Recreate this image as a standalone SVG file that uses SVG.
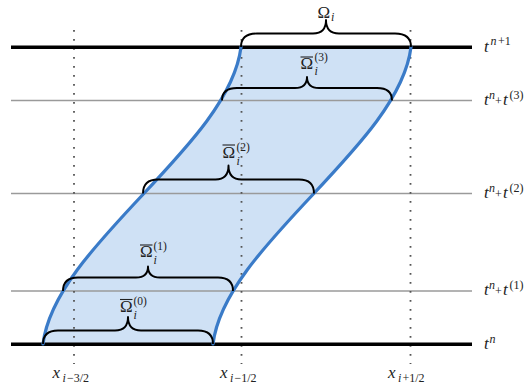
<svg xmlns="http://www.w3.org/2000/svg" width="528" height="390" viewBox="0 0 528 390">
<style>
.thick{stroke:#000;stroke-width:3.6;fill:none}
.thin{stroke:#9a9a9a;stroke-width:1.6;fill:none}
.dot{stroke:#555;stroke-width:1.8;stroke-dasharray:1.8 7.2;fill:none}
.edge{stroke:#3a7bc8;stroke-width:3.2;fill:none;stroke-linecap:round}
.cell{fill:#cfe1f5;stroke:none}
.brace{stroke:#000;stroke-width:1.9;fill:none;stroke-linejoin:round}
.bar{stroke:#222;stroke-width:1.1}
text{font-family:"Liberation Serif","Times New Roman",serif;fill:#222}
.m{font-size:17px;font-style:italic}
.g{font-size:17px;font-style:normal}
.s{font-size:12px;font-style:italic}
.sn{font-size:12px;font-style:normal}
.sp{font-size:11.5px;font-style:normal}
</style>
<g id="cell">
<path class="cell" d="M43,344 C55,245 229,146 241,47 L411,47 C399,146 225,245 213,344 Z"/>
</g>
<g id="time-levels">
<line class="thin" x1="11" y1="100.5" x2="472" y2="100.5"/>
<line class="thin" x1="11" y1="193.5" x2="472" y2="193.5"/>
<line class="thin" x1="11" y1="291" x2="472" y2="291"/>
</g>
<g id="interfaces">
<line class="dot" x1="74" y1="30" x2="74" y2="364"/>
<line class="dot" x1="241.5" y1="30" x2="241.5" y2="364"/>
<line class="dot" x1="410.5" y1="30" x2="410.5" y2="364"/>
</g>
<g id="bounds">
<line class="thick" x1="11" y1="47.3" x2="472" y2="47.3"/>
<line class="thick" x1="11" y1="344.3" x2="472" y2="344.3"/>
</g>
<g id="connectors">
<path class="edge" d="M43,344 C55,245 229,146 241,47"/>
<path class="edge" d="M213,344 C225,245 399,146 411,47"/>
</g>
<g id="braces">
<path class="brace" d="M241,47 Q241,33.5 257,33.5 L313,33.5 Q326,33.5 326,20 Q326,33.5 339,33.5 L395,33.5 Q411,33.5 411,47"/>
<path class="brace" d="M222,100.5 Q222,88 237,88 L295,88 Q307,88 307,77 Q307,88 319,88 L377,88 Q392,88 392,100.5"/>
<path class="brace" d="M143,193.5 Q143,179.5 158,179.5 L215.5,179.5 Q228.5,179.5 228.5,165.5 Q228.5,179.5 241.5,179.5 L299,179.5 Q314,179.5 314,193.5"/>
<path class="brace" d="M63,291 Q63,277.5 78,277.5 L136,277.5 Q148,277.5 148,266.5 Q148,277.5 160,277.5 L218,277.5 Q233,277.5 233,291"/>
<path class="brace" d="M43,344 Q43,330.5 58,330.5 L115,330.5 Q128,330.5 128,317 Q128,330.5 141,330.5 L198,330.5 Q213,330.5 213,344"/>
</g>
<g id="omega-labels">
<text class="g" x="317.5" y="17.5">Ω<tspan class="s" x="331" y="21">i</tspan></text>
<g id="omega3">
<line class="bar" x1="300.5" y1="57" x2="313" y2="57"/>
<text class="g" x="300.5" y="68.5">Ω<tspan class="s" x="314.5" y="74.5">i</tspan></text>
<text class="sp" x="314.5" y="61">(3)</text>
</g>
<g id="omega2">
<line class="bar" x1="222.5" y1="145" x2="235" y2="145"/>
<text class="g" x="222.5" y="158">Ω<tspan class="s" x="236.5" y="164.5">i</tspan></text>
<text class="sp" x="236.5" y="150.5">(2)</text>
</g>
<g id="omega1">
<line class="bar" x1="140" y1="245" x2="152.5" y2="245"/>
<text class="g" x="140" y="257">Ω<tspan class="s" x="153.5" y="263.5">i</tspan></text>
<text class="sp" x="153.5" y="249.5">(1)</text>
</g>
<g id="omega0">
<line class="bar" x1="120" y1="299.5" x2="132.5" y2="299.5"/>
<text class="g" x="120" y="312">Ω<tspan class="s" x="133.5" y="318.5">i</tspan></text>
<text class="sp" x="133.5" y="304.5">(0)</text>
</g>
</g>
<g id="time-labels">
<text class="m" x="484" y="51.5">t<tspan class="s" x="490.5" y="45">n</tspan><tspan class="sn" x="498" y="45">+1</tspan></text>
<text class="m" x="484" y="104.5">t<tspan class="s" x="489" y="98.5">n</tspan><tspan class="sn" x="495" y="104.5">+</tspan><tspan x="503" y="104.5">t</tspan><tspan class="sn" x="509.5" y="98.5">(3)</tspan></text>
<text class="m" x="484" y="197.5">t<tspan class="s" x="489" y="191.5">n</tspan><tspan class="sn" x="495" y="197.5">+</tspan><tspan x="503" y="197.5">t</tspan><tspan class="sn" x="509.5" y="191.5">(2)</tspan></text>
<text class="m" x="484" y="295">t<tspan class="s" x="489" y="289">n</tspan><tspan class="sn" x="495" y="295">+</tspan><tspan x="503" y="295">t</tspan><tspan class="sn" x="509.5" y="289">(1)</tspan></text>
<text class="m" x="484" y="348.5">t<tspan class="s" x="489.5" y="342.5">n</tspan></text>
</g>
<g id="space-labels">
<text class="m" x="52.5" y="378">x<tspan class="s" x="62.5" y="382">i</tspan><tspan class="sn" x="67" y="382">−3/2</tspan></text>
<text class="m" x="220" y="378">x<tspan class="s" x="230" y="382">i</tspan><tspan class="sn" x="234.5" y="382">−1/2</tspan></text>
<text class="m" x="388" y="378">x<tspan class="s" x="398" y="382">i</tspan><tspan class="sn" x="402.5" y="382">+1/2</tspan></text>
</g>
</svg>
